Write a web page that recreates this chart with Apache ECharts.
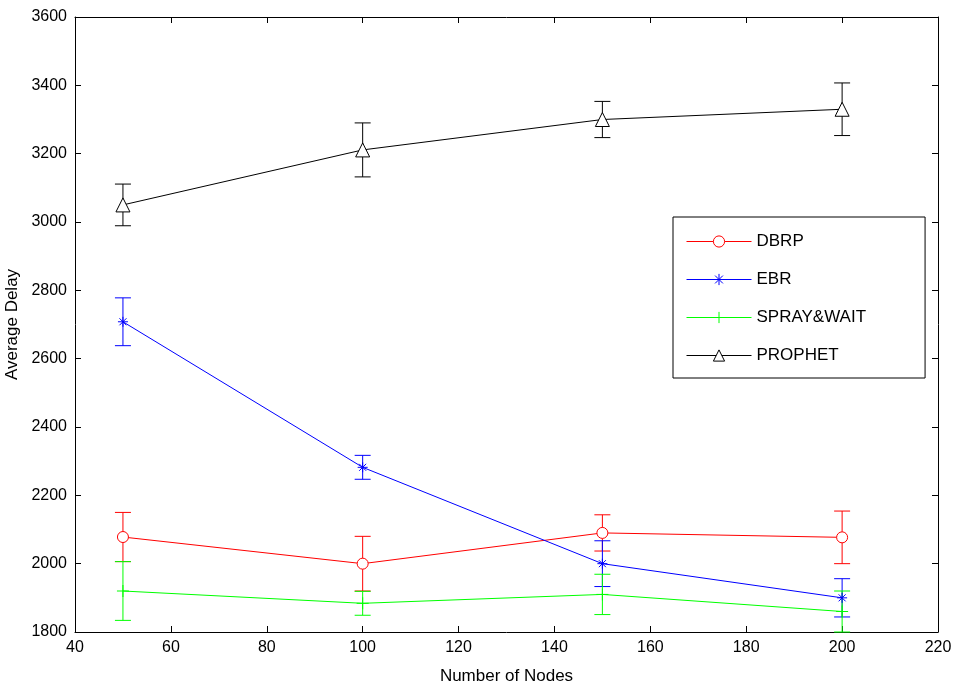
<!DOCTYPE html>
<html><head><meta charset="utf-8">
<script src="https://cdn.jsdelivr.net/npm/echarts@6/dist/echarts.min.js"></script>
<style>html,body{margin:0;padding:0;background:#fff}#c{width:962px;height:691px}</style>
</head><body><div id="c"></div>
<script>
const nodes = [50, 100, 150, 200];
const dbrp = [2078, 2000, 2090, 2077];
const dbrpErr = [72, 80, 53, 77];
const ebr = [2708, 2282, 2000, 1900];
const ebrErr = [70, 35, 67, 56];
const spray = [1920, 1884, 1910, 1860];
const sprayErr = [86, 35, 59, 60];
const prophet = [3050, 3211, 3300, 3330];
const prophetErr = [61, 79, 53, 77];
const names = ['DBRP', 'EBR', 'SPRAY&WAIT', 'PROPHET'];
const colors = ['#ff0000', '#0000ff', '#00ff00', '#000000'];
const xTicks = [40, 220, 20];
const yTicks = [1800, 3600, 200];

const FONT = 'Liberation Sans, Arial, sans-serif';
const starPath = 'path://M0,-10L0,10M-10,0L10,0M-7,-7L7,7M-7,7L7,-7';
const plusPath = 'path://M0,-10L0,10M-10,0L10,0';
const circlePath = 'path://M-10,0A10,10 0 1,0 10,0A10,10 0 1,0 -10,0Z';
const triPath = 'path://M0,-10L8.66,5L-8.66,5Z';

function lineSeries(name, vals, color, symbol, size, fill) {
  return {
    type: 'line', name: name,
    data: nodes.map((x, i) => [x, vals[i]]),
    symbol: symbol, symbolSize: size,
    lineStyle: { color: color, width: 1 },
    itemStyle: { color: fill, borderColor: color, borderWidth: 1 },
    z: 3, animation: false
  };
}
function errSeries(vals, errs, color) {
  return {
    type: 'custom',
    data: nodes.map((x, i) => [x, vals[i] - errs[i], vals[i] + errs[i]]),
    renderItem: function (params, api) {
      const lo = api.coord([api.value(0), api.value(1)]);
      const hi = api.coord([api.value(0), api.value(2)]);
      const hw = 8;
      const st = { stroke: color, lineWidth: 1 };
      return {
        type: 'group', children: [
          { type: 'line', shape: { x1: lo[0], y1: lo[1], x2: hi[0], y2: hi[1] }, style: st },
          { type: 'line', shape: { x1: lo[0] - hw, y1: lo[1], x2: lo[0] + hw, y2: lo[1] }, style: st },
          { type: 'line', shape: { x1: hi[0] - hw, y1: hi[1], x2: hi[0] + hw, y2: hi[1] }, style: st }
        ]
      };
    },
    z: 2, animation: false, silent: true
  };
}

const axisCommon = {
  axisLine: { show: true, lineStyle: { color: '#000', width: 1 } },
  axisTick: { show: true, inside: true, length: 6, lineStyle: { color: '#000' } },
  splitLine: { show: false }
};

const chart = echarts.init(document.getElementById('c'), null, { renderer: 'canvas' });
chart.setOption({
  animation: false,
  backgroundColor: '#fff',
  grid: { left: 75, right: 24, top: 17, bottom: 59, containLabel: false, outerBoundsMode: 'none' },
  xAxis: [
    Object.assign({ type: 'value', min: xTicks[0], max: xTicks[1], interval: xTicks[2], position: 'bottom',
      name: 'Number of Nodes', nameLocation: 'middle', nameGap: 36,
      nameTextStyle: { fontFamily: FONT, fontSize: 17, color: '#000' },
      axisLabel: { fontFamily: FONT, fontSize: 16, color: '#000', margin: 8 } }, axisCommon),
    Object.assign({ type: 'value', min: xTicks[0], max: xTicks[1], interval: xTicks[2], position: 'top',
      axisLabel: { show: false } }, axisCommon)
  ],
  yAxis: [
    Object.assign({ type: 'value', min: yTicks[0], max: yTicks[1], interval: yTicks[2], position: 'left',
      name: 'Average Delay', nameLocation: 'middle', nameGap: 46, nameRotate: 90,
      nameTextStyle: { fontFamily: FONT, fontSize: 17, color: '#000' },
      axisLabel: { fontFamily: FONT, fontSize: 16, color: '#000', margin: 8, formatter: v => String(v) } }, axisCommon),
    Object.assign({ type: 'value', min: yTicks[0], max: yTicks[1], interval: yTicks[2], position: 'right',
      axisLabel: { show: false } }, axisCommon)
  ],
  legend: {
    data: names.map((n, i) => ({ name: n, lineStyle: { color: colors[i], width: 1 } })),
    orient: 'vertical', left: 673, top: 217,
    padding: [16, 59, 14, 13], itemGap: 21, itemWidth: 65, itemHeight: 14,
    backgroundColor: '#fff', borderColor: '#000', borderWidth: 1,
    lineStyle: { width: 1 },
    itemStyle: { borderWidth: 1 },
    textStyle: { fontFamily: FONT, fontSize: 17, color: '#000' },
    selectedMode: false
  },
  series: [
    errSeries(dbrp, dbrpErr, colors[0]),
    errSeries(ebr, ebrErr, colors[1]),
    errSeries(spray, sprayErr, colors[2]),
    errSeries(prophet, prophetErr, colors[3]),
    lineSeries(names[0], dbrp, colors[0], circlePath, 11, '#fff'),
    lineSeries(names[1], ebr, colors[1], starPath, 10, colors[1]),
    lineSeries(names[2], spray, colors[2], plusPath, 12, colors[2]),
    lineSeries(names[3], prophet, colors[3], triPath, 14, '#fff')
  ]
});
</script></body></html>
